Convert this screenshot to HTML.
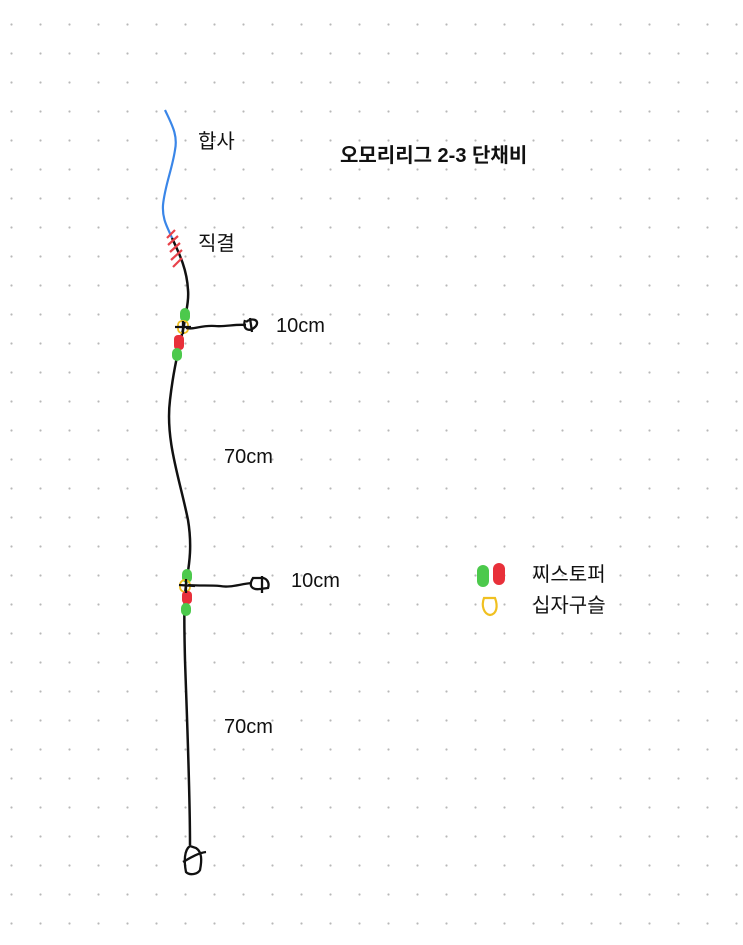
<!DOCTYPE html>
<html><head><meta charset="utf-8"><style>
html,body{margin:0;padding:0;background:#fff;}
svg{display:block}
text{font-family:"Liberation Sans","Noto Sans CJK KR",sans-serif;fill:#111;}
</style></head><body>
<svg width="743" height="945" viewBox="0 0 743 945" xmlns="http://www.w3.org/2000/svg">
<defs><pattern id="g" x="-3" y="10" width="29" height="29" patternUnits="userSpaceOnUse"><circle cx="14.5" cy="14.5" r="1.1" fill="#b8b8b8"/></pattern></defs>
<rect width="743" height="945" fill="url(#g)"/>
<path d="M165 110 C172 125,178 135,175 150 C172 170,165 185,163 205 C162 220,168 228,172 238" fill="none" stroke="#3a86e8" stroke-width="2.2"/>
<path d="M172 238 C180 255,187 270,188 290 C189 300,186 312,184 325 C180 345,174 365,170 400 C165 440,180 480,188 520 C193 550,188 570,186 585 C184 600,184 620,185 660 C187 720,190 790,190 845" fill="none" stroke="#111" stroke-width="2.5"/>
<g stroke="#e8424a" stroke-width="2.2">
<line x1="167" y1="238" x2="175" y2="230"/><line x1="168" y1="245" x2="178" y2="236"/><line x1="170" y1="252" x2="180" y2="243"/><line x1="171" y1="260" x2="182" y2="250"/><line x1="173" y1="267" x2="182" y2="258"/>
</g>
<rect x="180" y="308" width="10" height="14" rx="5" fill="#4cc94c"/>
<rect x="178" y="321" width="10" height="12" rx="4" fill="none" stroke="#f0c020" stroke-width="1.8"/>
<rect x="174" y="335" width="10" height="15" rx="4" fill="#e8303a"/>
<rect x="172" y="348" width="10" height="13" rx="5" fill="#4cc94c"/>
<path d="M175 327 L191 327 M183 321 L183 334 M186 328 C195 330,200 325,215 326 C225 327,235 324,246 325" fill="none" stroke="#111" stroke-width="2.3"/>
<path d="M245 320 C242 330,250 333,256 326 C260 320,252 317,246 322 M250 318 L252 332" fill="none" stroke="#111" stroke-width="2.3"/>
<rect x="182" y="569" width="10" height="14" rx="5" fill="#4cc94c"/>
<rect x="180" y="580" width="10" height="12" rx="5" fill="none" stroke="#f0c020" stroke-width="1.8"/>
<rect x="182" y="591" width="10" height="13" rx="4" fill="#e8303a"/>
<rect x="181" y="603" width="10" height="13" rx="5" fill="#4cc94c"/>
<path d="M179 585 L195 586 M186 579 L186 593 M188 585 C200 586,210 585,220 586 C230 588,240 584,252 583" fill="none" stroke="#111" stroke-width="2.3"/>
<path d="M253 578 C248 586,252 590,260 589 L268 588 C270 582,266 577,260 578 Z M262 576 L262 593" fill="none" stroke="#111" stroke-width="2.3"/>
<path d="M190 846 C184 850,184 862,186 872 C190 876,198 874,200 870 C202 860,202 852,196 848 Z M183 862 C190 858,198 853,206 852" fill="none" stroke="#111" stroke-width="2.3"/>
<rect x="477" y="565" width="12" height="22" rx="6" fill="#4cc94c"/>
<rect x="493" y="563" width="12" height="22" rx="6" fill="#e8303a"/>
<path d="M484 598 C481 606,484 614,490 615 C497 614,498 606,495 598 Z" fill="none" stroke="#f0c020" stroke-width="2.2"/>
<text x="198" y="148" font-size="20">합사</text>
<text x="340" y="162" font-size="20" font-weight="bold">오모리리그 2-3 단채비</text>
<text x="198" y="250" font-size="20">직결</text>
<text x="276" y="332" font-size="20">10cm</text>
<text x="224" y="463" font-size="20">70cm</text>
<text x="291" y="587" font-size="20">10cm</text>
<text x="224" y="733" font-size="20">70cm</text>
<text x="532" y="581" font-size="20">찌스토퍼</text>
<text x="532" y="612" font-size="20">십자구슬</text>
</svg>
</body></html>
